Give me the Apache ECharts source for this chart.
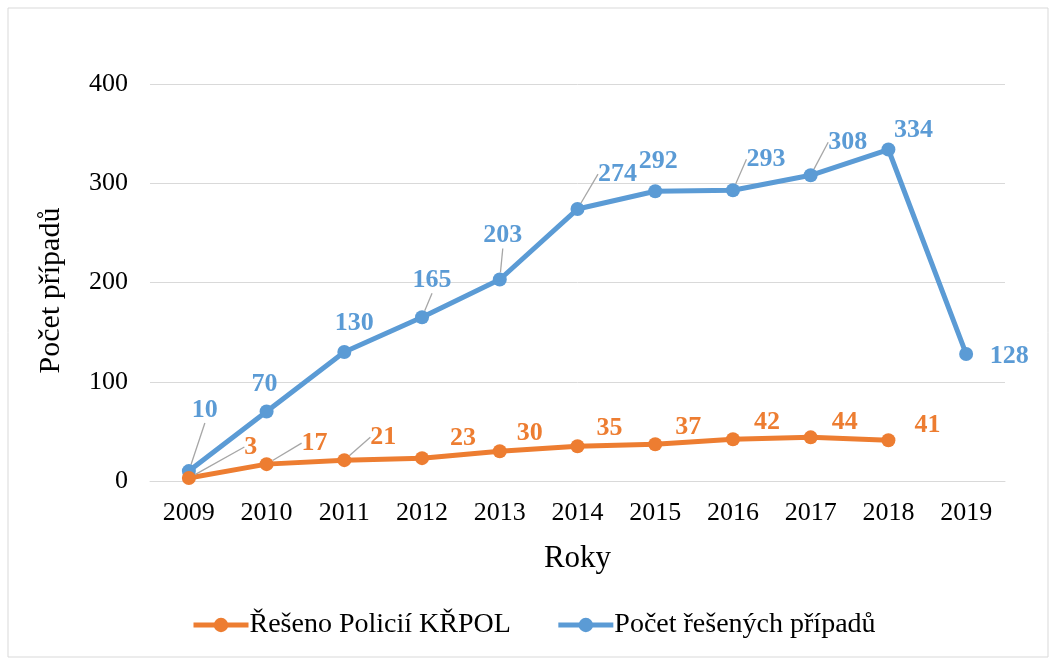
<!DOCTYPE html>
<html>
<head>
<meta charset="utf-8">
<script src="https://cdn.jsdelivr.net/npm/echarts@6/dist/echarts.min.js"></script>
<style>
html,body{margin:0;padding:0;background:#fff;}
#chart{width:1050px;height:659px;}
</style>
</head>
<body>
<div id="chart"></div>
<script>
var years = ['2009','2010','2011','2012','2013','2014','2015','2016','2017','2018','2019'];
var resenoPolicii = [3,17,21,23,30,35,37,42,44,41,null];
var pocetPripadu = [10,70,130,165,203,274,292,293,308,334,128];
var yTicks = [0,100,200,300,400];

// posuny popisku (stred popisku vuci bodu)
var blueShift = [[16,-61],[-2,-27],[10,-29],[10,-37],[3,-44],[40,-35],[3,-30],[33,-31],[37,-33],[25,-19],[43,2]];
var orangeShift = [[62,-31],[48,-21],[39,-23],[41,-20],[30,-18],[32,-18],[33,-17],[34,-17],[34,-15],[39,-15]];
var blueLines = [1,0,0,1,1,1,0,1,1,0,0];
var orangeLines = [1,1,1,0,0,0,0,0,0,0];

var myChart = echarts.init(document.getElementById('chart'));

function makeData(values, lines){
	return values.map(function(v,i){
		return {value:v, labelLine:{show:!!lines[i]}};
	});
}

var option = {
	animation:false,
	textStyle:{fontFamily:'Liberation Serif'},
	graphic:[{
		type:'rect',
		shape:{x:8,y:8,width:1040,height:649},
		style:{fill:'none',stroke:'#d9d9d9',lineWidth:1},
		silent:true
	}],
	grid:{left:150,right:45,top:84,bottom:178},
	legend:{
		data:['Řešeno Policií KŘPOL','Počet řešených případů'],
		top:606,
		left:186,
		itemGap:45,
		itemWidth:55,
		itemHeight:18,
		lineStyle:{width:5},
		textStyle:{fontFamily:'Liberation Serif',fontSize:28,color:'#000',padding:[0,0,0,-4]}
	},
	xAxis:{
		type:'category',
		data:years,
		name:'Roky',
		nameLocation:'middle',
		nameGap:62,
		nameTextStyle:{fontFamily:'Liberation Serif',fontSize:31,color:'#000'},
		axisLine:{lineStyle:{color:'#d9d9d9',width:1}},
		axisTick:{show:false},
		axisLabel:{fontFamily:'Liberation Serif',fontSize:26,color:'#000',margin:19}
	},
	yAxis:{
		type:'value',
		min:0,
		max:400,
		interval:100,
		name:'Počet případů',
		nameLocation:'middle',
		nameGap:84,
		nameTextStyle:{fontFamily:'Liberation Serif',fontSize:30,color:'#000',padding:[0,16,0,0]},
		axisLine:{show:false},
		axisTick:{show:false},
		splitLine:{lineStyle:{color:'#d9d9d9',width:1}},
		axisLabel:{fontFamily:'Liberation Serif',fontSize:26,color:'#000',margin:22,
			formatter:function(v){return yTicks.indexOf(v)>=0?String(v):'';}}
	},
	series:[
		{
			name:'Počet řešených případů',
			type:'line',
			data:makeData(pocetPripadu,blueLines),
			color:'#5b9bd5',
			symbol:'circle',
			symbolSize:14,
			lineStyle:{width:5,color:'#5b9bd5'},
			itemStyle:{color:'#5b9bd5'},
			label:{show:true,position:'inside',fontFamily:'Liberation Serif',fontSize:26,fontWeight:'bold',color:'#5b9bd5'},
			labelLine:{show:true,lineStyle:{color:'#a6a6a6',width:1.3}},
			labelLayout:function(p){
				var s = blueShift[p.dataIndex];
				return {dx:s[0],dy:s[1]};
			},
			z:2
		},
		{
			name:'Řešeno Policií KŘPOL',
			type:'line',
			data:makeData(resenoPolicii,orangeLines),
			color:'#ed7d31',
			symbol:'circle',
			symbolSize:14,
			lineStyle:{width:5,color:'#ed7d31'},
			itemStyle:{color:'#ed7d31'},
			label:{show:true,position:'inside',fontFamily:'Liberation Serif',fontSize:26,fontWeight:'bold',color:'#ed7d31'},
			labelLine:{show:true,lineStyle:{color:'#a6a6a6',width:1.3}},
			labelLayout:function(p){
				var s = orangeShift[p.dataIndex];
				if(!s) return {};
				return {dx:s[0],dy:s[1]};
			},
			z:3
		}
	]
};
myChart.setOption(option);
</script>
</body>
</html>
